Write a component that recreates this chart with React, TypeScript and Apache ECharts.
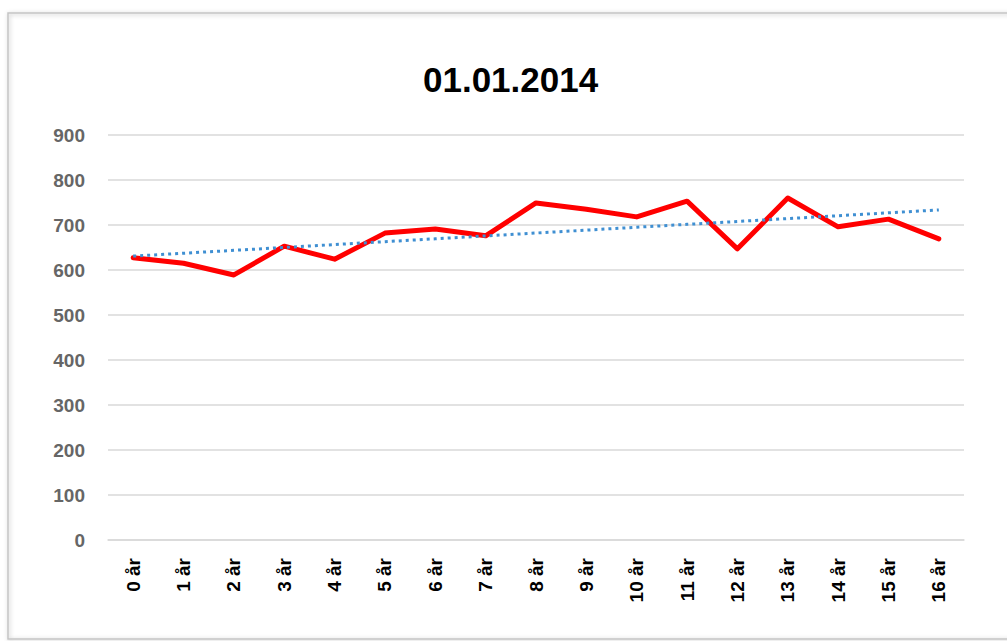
import React, { useEffect, useRef } from "react";
import * as echarts from "echarts";

const title = "01.01.2014";
const categories = ["0 år", "1 år", "2 år", "3 år", "4 år", "5 år", "6 år", "7 år", "8 år", "9 år", "10 år", "11 år", "12 år", "13 år", "14 år", "15 år", "16 år"];
const values = [627, 615, 589, 653, 624, 682, 691, 676, 749, 735, 718, 753, 647, 760, 696, 713, 669];
const yMin = 0;
const yMax = 900;
const yStep = 100;

// Linear trendline (least squares), as Excel computes it from the series
function trend(vals: number[]): number[] {
  const n = vals.length;
  const mx = (n - 1) / 2;
  const my = vals.reduce((a, b) => a + b, 0) / n;
  let sxy = 0;
  let sxx = 0;
  vals.forEach((v, i) => {
    sxy += (i - mx) * (v - my);
    sxx += (i - mx) * (i - mx);
  });
  const slope = sxy / sxx;
  return vals.map((_, i) => my + slope * (i - mx));
}

export default function App() {
  const ref = useRef<HTMLDivElement>(null);
  useEffect(() => {
    if (!ref.current) return;
    const chart = echarts.init(ref.current, undefined, { renderer: "svg" });
    chart.setOption({
      animation: false,
      backgroundColor: "#ffffff",
      title: {
        text: title,
        left: 418,
        top: 57,
        padding: [5, 5, 5, 5],
        textStyle: {
          fontFamily: "Liberation Sans",
          fontWeight: "bold",
          fontSize: 35,
          color: "#000000",
        },
      },
      graphic: [
        {
          type: "rect",
          shape: { x: 8, y: 13, width: 1060, height: 626 },
          style: {
            fill: "none",
            stroke: "#c4c4c4",
            lineWidth: 1.5,
            shadowBlur: 4,
            shadowColor: "rgba(0,0,0,0.25)",
            shadowOffsetX: 1,
            shadowOffsetY: 1,
          },
          silent: true,
          z: -1,
        },
      ],
      grid: { left: 108, right: 43, top: 135, bottom: 101, containLabel: false },
      xAxis: {
        type: "category",
        data: categories,
        boundaryGap: true,
        axisLine: { show: true, lineStyle: { color: "#d9d9d9", width: 1.5 } },
        axisTick: { show: false },
        axisLabel: {
          rotate: 90,
          margin: 18,
          interval: 0,
          fontFamily: "Liberation Sans",
          fontWeight: "bold",
          fontSize: 19,
          color: "#000000",
        },
      },
      yAxis: {
        type: "value",
        min: yMin,
        max: yMax,
        interval: yStep,
        axisLine: { show: false },
        axisTick: { show: false },
        splitLine: { lineStyle: { color: "#d9d9d9", width: 1.5 } },
        axisLabel: {
          margin: 23,
          fontFamily: "Liberation Sans",
          fontWeight: "bold",
          fontSize: 19,
          color: "#666666",
        },
      },
      series: [
        {
          name: "Verdi",
          type: "line",
          data: values,
          symbol: "none",
          lineStyle: { color: "#ff0000", width: 5, join: "round", cap: "round" },
          z: 2,
        },
        {
          name: "Trend",
          type: "line",
          data: trend(values),
          symbol: "none",
          lineStyle: { color: "#3f8fd2", width: 3, type: [3, 4] },
          z: 3,
        },
      ],
    });
    return () => chart.dispose();
  }, []);
  return (
    <div
      ref={ref}
      style={{ position: "absolute", left: 0, top: 0, width: 1007, height: 641 }}
    />
  );
}
